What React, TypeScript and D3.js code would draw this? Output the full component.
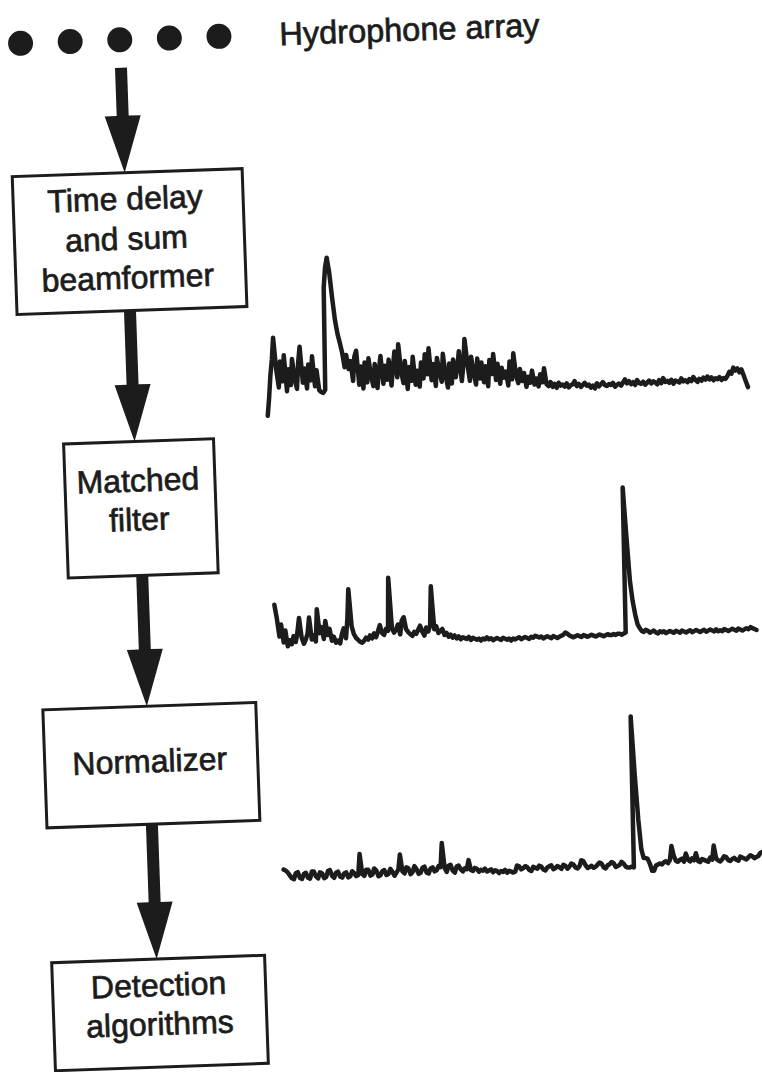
import { useEffect } from 'react'
import * as d3 from "d3"

// labels
const arrayLabel = 'Hydrophone array'
const hydrophones = ['h1', 'h2', 'h3', 'h4', 'h5']
const stageLabels = [
  ['Time delay', 'and sum', 'beamformer'],
  ['Matched', 'filter'],
  ['Normalizer'],
  ['Detection', 'algorithms'],
]

// signal traces, amplitude (240 samples each, same time axis)
const beamformerOut = [
  -16, 2, 24, 40, 62, 30, 12, 38, 18, 44, 8, 30, 14, 40, 20, 10, 36, 52, 16, 30,
  10, 34, 18, 42, 12, 28, 8, 6, 5, 8, 110, 130, 140, 125, 100, 78, 64, 55, 45, 30,
  42, 28, 36, 16, 40, 46, 12, 30, 8, 34, 14, 38, 20, 10, 32, 8, 26, 40, 12, 30,
  16, 36, 10, 28, 44, 18, 51, 24, 12, 34, 6, 28, 14, 38, 10, 24, 8, 32, 16, 40,
  20, 46, 14, 30, 8, 36, 22, 12, 40, 18, 6, 30, 10, 34, 16, 26, 42, 12, 28, 54,
  30, 12, 36, 20, 8, 34, 14, 30, 10, 26, 6, 32, 18, 38, 12, 28, 8, 24, 14, 20,
  6, 30, 12, 38, 16, 8, 22, 10, 18, 4, 14, 8, 20, 6, 12, 4, 16, 8, 22, 6,
  4, 8, 3, 6, 2, 7, 4, 5, 3, 6, 2, 4, 5, 8, 3, 5, 2, 4, 6, 3,
  4, 1, 3, 0, 5, 2, 4, 6, 3, 2, 4, 3, 5, 1, 3, 4, 2, 5, 8, 4,
  6, 3, 5, 2, 7, 4, 3, 5, 2, 4, 6, 3, 5, 4, 2, 6, 3, 8, 4, 5,
  3, 6, 2, 5, 4, 3, 7, 4, 5, 3, 6, 4, 8, 5, 3, 6, 4, 7, 5, 8,
  5, 7, 4, 6, 5, 7, 4, 6, 5, 8, 12, 10, 16, 13, 15, 11, 14, 8, 2, -4,
]
const matchedOut = [
  44, 30, 12, 24, 6, 18, 2, 8, 4, 12, 6, 16, 30, 10, 4, 8, 14, 30, 8, 12,
  6, 38, 14, 20, 8, 26, 12, 18, 6, 10, 4, 6, 3, 12, 18, 8, 27, 57, 20, 12,
  8, 6, 4, 3, 5, 8, 6, 10, 7, 12, 8, 14, 20, 12, 10, 16, 14, 67, 16, 12,
  15, 20, 10, 24, 27, 15, 12, 10, 8, 12, 10, 14, 18, 12, 8, 16, 12, 18, 57, 14,
  17, 10, 12, 14, 8, 10, 6, 8, 5, 7, 4, 6, 3, 5, 4, 3, 5, 2, 4, 3,
  2, 3, 1, 3, 2, 4, 2, 3, 1, 2, 3, 2, 1, 3, 2, 1, 2, 0, 2, 1,
  2, 3, 1, 2, 3, 2, 1, 3, 2, 4, 3, 2, 3, 1, 2, 3, 2, 1, 3, 2,
  1, 2, 3, 4, 6, 5, 3, 2, 1, 2, 3, 2, 1, 3, 2, 1, 2, 3, 2, 1,
  2, 3, 2, 1, 2, 3, 2, 2, 3, 2, 3, 3, 2, 3, 4, 149, 100, 55, 35, 22,
  12, 8, 5, 4, 6, 5, 3, 4, 5, 3, 2, 4, 3, 4, 2, 3, 4, 3, 2, 4,
  3, 2, 4, 3, 2, 3, 4, 2, 3, 4, 3, 2, 3, 4, 2, 3, 4, 3, 2, 4,
  2, 3, 2, 4, 3, 2, 3, 4, 3, 2, 4, 3, 2, 3, 4, 3, 5, 4, 3, 2,
]
const normalizedOut = [
  12, 11, 9, 6, 3, 2, 8, 9, 3, 2, 7, 8, 3, 2, 9, 9, 4, 2, 8, 7,
  2, 3, 9, 10, 4, 2, 7, 8, 3, 2, 6, 7, 2, 3, 8, 6, 3, 4, 25, 5,
  3, 9, 9, 3, 4, 10, 8, 2, 3, 7, 8, 3, 4, 9, 6, 2, 5, 8, 23, 6,
  4, 10, 9, 3, 5, 11, 8, 3, 4, 9, 10, 4, 3, 8, 9, 5, 6, 10, 9, 33,
  8, 4, 10, 11, 5, 3, 9, 10, 6, 4, 7, 6, 15, 5, 4, 7, 6, 3, 5, 4,
  6, 3, 4, 5, 2, 4, 3, 1, 3, 2, 4, 1, 3, 2, 1, 2, 8, 7, 4, 5,
  7, 6, 3, 2, 6, 5, 4, 7, 6, 3, 2, 5, 6, 7, 3, 4, 6, 5, 3, 7,
  6, 3, 5, 8, 7, 4, 3, 5, 11, 10, 6, 3, 4, 5, 3, 4, 6, 8, 7, 3,
  2, 5, 6, 8, 7, 3, 4, 5, 8, 6, 3, 2, 2, 3, 2, 153, 95, 50, 20, 11,
  11, 10, 5, -2, -2, 3, 4, 5, 4, 6, 7, 5, 8, 22, 12, 7, 6, 8, 9, 6,
  14, 8, 6, 9, 7, 14, 6, 5, 8, 7, 6, 5, 9, 7, 21, 8, 6, 5, 7, 10,
  9, 6, 5, 7, 8, 6, 5, 9, 8, 7, 6, 8, 10, 9, 7, 8, 9, 12, 13, 12,
]

const W = 762
const H = 1072
const ink = '#1c1c1c'
const font = '"Liberation Sans", Arial, Helvetica, sans-serif'
const tilt = -2 // the scanned page is a bit rotated

// layout (drawn flat, then the whole group is tilted)
const boxFrames = [
  { x0: 25, x1: 255, y0: 164, y1: 302, tx: 137, baselines: [201, 241, 280] },
  { x0: 67, x1: 217, y0: 433, y1: 567, tx: 140, baselines: [483, 522] },
  { x0: 37, x1: 250, y0: 698, y1: 816, tx: 142, baselines: [764] },
  { x0: 37, x1: 250, y0: 951, y1: 1059, tx: 143, baselines: [988, 1027] },
]
const arrowX = [137.5, 138, 141, 142]
const traceBase = [396, 645, 878]

function SignalChain({ svgId }) {
  useEffect(() => {
    draw()
  }, [])

  function draw() {
    const svg = d3.select('#' + svgId)
    svg.selectAll('*').remove()
    svg.append('rect').attr('width', W).attr('height', H).attr('fill', '#fff')
    const g = svg.append('g').attr('transform', `rotate(${tilt}, ${W / 2}, ${H / 2})`)

    // hydrophones
    const dotX = d3.scalePoint().domain(hydrophones).range([38, 236.5])
    g.selectAll('circle.phone')
      .data(hydrophones)
      .join('circle')
      .attr('class', 'phone')
      .attr('cx', d => dotX(d))
      .attr('cy', 31)
      .attr('r', 12.5)
      .attr('fill', ink)
    g.append('text')
      .attr('x', 297)
      .attr('y', 42)
      .attr('font-family', font)
      .attr('font-size', 32.5)
      .attr('fill', ink)
      .attr('stroke', ink)
      .attr('stroke-width', 0.7)
      .text(arrayLabel)

    // arrows
    const shaftW = 12, headW = 36, headL = 57
    const arrows = boxFrames.map((b, i) => ({
      x: arrowX[i],
      y0: i === 0 ? 59 : boxFrames[i - 1].y1,
      y1: b.y0,
    }))
    g.selectAll('path.arrow')
      .data(arrows)
      .join('path')
      .attr('class', 'arrow')
      .attr('d', a => {
        const p = d3.path()
        p.moveTo(a.x - shaftW / 2, a.y0)
        p.lineTo(a.x + shaftW / 2, a.y0)
        p.lineTo(a.x + shaftW / 2, a.y1 - headL)
        p.lineTo(a.x + headW / 2, a.y1 - headL)
        p.lineTo(a.x, a.y1)
        p.lineTo(a.x - headW / 2, a.y1 - headL)
        p.lineTo(a.x - shaftW / 2, a.y1 - headL)
        p.closePath()
        return p.toString()
      })
      .attr('fill', ink)

    // boxes
    const box = g.selectAll('g.stage')
      .data(boxFrames)
      .join('g')
      .attr('class', 'stage')
    box.append('rect')
      .attr('x', d => d.x0)
      .attr('y', d => d.y0)
      .attr('width', d => d.x1 - d.x0)
      .attr('height', d => d.y1 - d.y0)
      .attr('fill', '#fff')
      .attr('stroke', ink)
      .attr('stroke-width', 3)
    box.each(function (d, i) {
      d3.select(this).selectAll('text')
        .data(stageLabels[i])
        .join('text')
        .attr('x', d.tx)
        .attr('y', (_, k) => d.baselines[k])
        .attr('text-anchor', 'middle')
        .attr('font-family', font)
        .attr('font-size', 32)
        .attr('fill', ink)
        .attr('stroke', ink)
        .attr('stroke-width', 0.7)
        .text(t => t)
    })

    // traces
    const traces = [beamformerOut, matchedOut, normalizedOut]
    const xScale = d3.scaleLinear().domain([0, beamformerOut.length - 1]).range([272, 753])
    traces.forEach((series, i) => {
      const yScale = d3.scaleLinear().domain([0, 150]).range([traceBase[i], traceBase[i] - 150])
      const line = d3.line<number>()
        .x((_, k) => xScale(k))
        .y(v => yScale(v))
      g.append('path')
        .attr('class', 'trace')
        .attr('d', line(series))
        .attr('fill', 'none')
        .attr('stroke', ink)
        .attr('stroke-width', 4.5)
        .attr('stroke-linejoin', 'round')
        .attr('stroke-linecap', 'round')
    })
  }

  return (
    <svg id={svgId} width={W} height={H}
      style={{ position: 'absolute', left: 0, top: 0, display: 'block' }} />
  )
}

export default function App() {
  return <SignalChain svgId="signal-chain" />
}
